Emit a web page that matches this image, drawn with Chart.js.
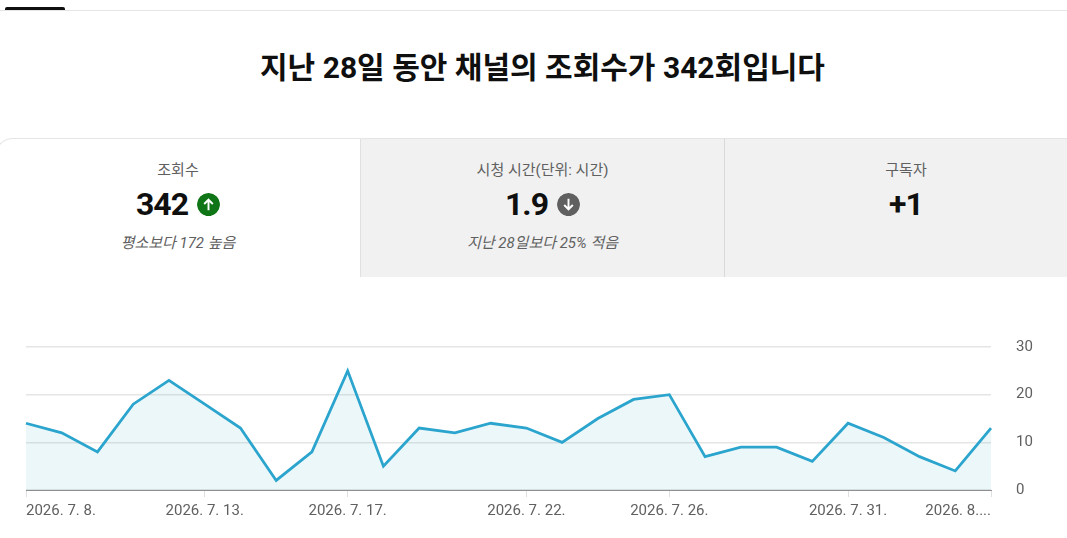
<!DOCTYPE html>
<html lang="ko">
<head>
<meta charset="utf-8">
<script src="https://cdn.jsdelivr.net/npm/chart.js@4"></script>
<style>
  html, body { margin: 0; padding: 0; background: #fff; }
  body { width: 1067px; height: 538px; position: relative; overflow: hidden; font-family: Roboto, "Noto Sans CJK KR", sans-serif; color: #0f0f0f; }
  .tabline { position: absolute; left: 0; right: 0; top: 10px; height: 1px; background: #e5e5e5; }
  .tabmark { position: absolute; left: 5px; top: 7px; width: 60px; height: 3px; background: #0f0f0f; border-radius: 2px 2px 0 0; }
  h1 { position: absolute; left: 9px; width: 1067px; top: 49px; margin: 0; text-align: center; font-size: 30px; line-height: 38px; font-weight: 700; }
  .card { position: absolute; top: 138px; height: 139px; box-sizing: border-box; text-align: center; border-top: 1px solid #e5e5e5; }
  .card.off { background: #f1f1f1; }
  #c1 { left: -5px; width: 366px; border-right: 1px solid #e0e0e0; border-top-left-radius: 18px; border-left: 1px solid #e5e5e5; }
  #c2 { left: 361px; width: 364px; border-right: 1px solid #d9d9d9; }
  #c3 { left: 725px; width: 362px; }
  .name { position: absolute; left: 0; right: 0; top: 21px; font-size: 15px; line-height: 20px; color: #606060; }
  .num { position: absolute; left: 0; right: 0; top: 45px; height: 40px; display: flex; justify-content: center; align-items: center; font-size: 32px; letter-spacing: -1px; font-weight: 700; }
  .dot { width: 23px; height: 23px; border-radius: 50%; margin-left: 9px; display: block; }
  .note { position: absolute; left: 0; right: 0; top: 94px; font-size: 15px; line-height: 20px; font-style: italic; color: #606060; }
  #wrap { position: absolute; left: 0; top: 300px; width: 1067px; height: 238px; }
</style>
</head>
<body>
<div class="tabline"></div>
<div class="tabmark"></div>
<h1>지난 28일 동안 채널의 조회수가 342회입니다</h1>
<div class="card" id="c1">
  <div class="name">조회수</div>
  <div class="num">342<svg class="dot" viewBox="0 0 24 24"><circle cx="12" cy="12" r="12" fill="#107516"/><path d="M12 18V7M7.5 11.5 12 7l4.5 4.5" fill="none" stroke="#fff" stroke-width="2"/></svg></div>
  <div class="note">평소보다 172 높음</div>
</div>
<div class="card off" id="c2">
  <div class="name">시청 시간(단위: 시간)</div>
  <div class="num">1.9<svg class="dot" viewBox="0 0 24 24"><circle cx="12" cy="12" r="12" fill="#606060"/><path d="M12 6v11M7.5 12.5 12 17l4.5-4.5" fill="none" stroke="#fff" stroke-width="2"/></svg></div>
  <div class="note">지난 28일보다 25% 적음</div>
</div>
<div class="card off" id="c3">
  <div class="name">구독자</div>
  <div class="num">+1</div>
</div>
<div id="wrap"><canvas id="viewsChart"></canvas></div>

<script>
const days = ['2026. 7. 8.', '2026. 7. 9.', '2026. 7. 10.', '2026. 7. 11.', '2026. 7. 12.', '2026. 7. 13.', '2026. 7. 14.',
    '2026. 7. 15.', '2026. 7. 16.', '2026. 7. 17.', '2026. 7. 18.', '2026. 7. 19.', '2026. 7. 20.', '2026. 7. 21.',
    '2026. 7. 22.', '2026. 7. 23.', '2026. 7. 24.', '2026. 7. 25.', '2026. 7. 26.', '2026. 7. 27.', '2026. 7. 28.',
    '2026. 7. 29.', '2026. 7. 30.', '2026. 7. 31.', '2026. 8. 1.', '2026. 8. 2.', '2026. 8. 3.', '2026. 8. 4.'];
const views = [14, 12, 8, 18, 23, 18, 13, 2, 8, 25, 5, 13, 12, 14, 13, 10, 15, 19, 20, 7, 9, 9, 6, 14, 11, 7, 4, 13];
const shownDays = ['2026. 7. 8.', '2026. 7. 13.', '2026. 7. 17.', '2026. 7. 22.', '2026. 7. 26.', '2026. 7. 31.', '2026. 8. 4.'];
const shownLabels = ['2026. 7. 8.', '2026. 7. 13.', '2026. 7. 17.', '2026. 7. 22.', '2026. 7. 26.', '2026. 7. 31.', '2026. 8....'];
const yTicks = [0, 10, 20, 30];

const tickFont = { family: 'Roboto, "Noto Sans CJK KR", sans-serif', size: 15 };

new Chart(document.getElementById('viewsChart'), {
    type: 'line',
    data: {
        labels: days,
        datasets: [{
            data: views,
            borderColor: '#2ba5cd',
            borderWidth: 2.8,
            backgroundColor: 'rgba(43, 165, 205, 0.09)',
            fill: 'origin',
            tension: 0,
            pointRadius: 0,
            borderJoinStyle: 'miter'
        }]
    },
    options: {
        responsive: true,
        maintainAspectRatio: false,
        animation: false,
        events: [],
        layout: { padding: { left: 26, top: 47, right: 0, bottom: 0 } },
        plugins: { legend: { display: false }, tooltip: { enabled: false } },
        scales: {
            x: {
                offset: false,
                afterBuildTicks: scale => {
                    scale.ticks = scale.ticks.filter(t => shownDays.includes(days[t.value]));
                },
                afterFit: scale => { scale.height = 48; },
                grid: { drawOnChartArea: false, drawTicks: true, tickLength: 7, color: '#e0e0e0' },
                border: { color: '#909090', width: 1 },
                ticks: {
                    autoSkip: false,
                    maxRotation: 0,
                    align: 'inner',
                    padding: 5,
                    color: '#606060',
                    font: tickFont,
                    callback: function (value) {
                        return shownLabels[shownDays.indexOf(days[value])];
                    }
                }
            },
            y: {
                position: 'right',
                min: 0,
                max: 30,
                afterBuildTicks: scale => {
                    scale.ticks = yTicks.map(v => ({ value: v }));
                },
                afterFit: scale => { scale.width = 76; },
                grid: { drawTicks: false, color: '#e5e5e5', lineWidth: 1.5 },
                border: { display: false },
                ticks: {
                    padding: 25,
                    color: '#606060',
                    font: tickFont
                }
            }
        }
    }
});
</script>
</body>
</html>
